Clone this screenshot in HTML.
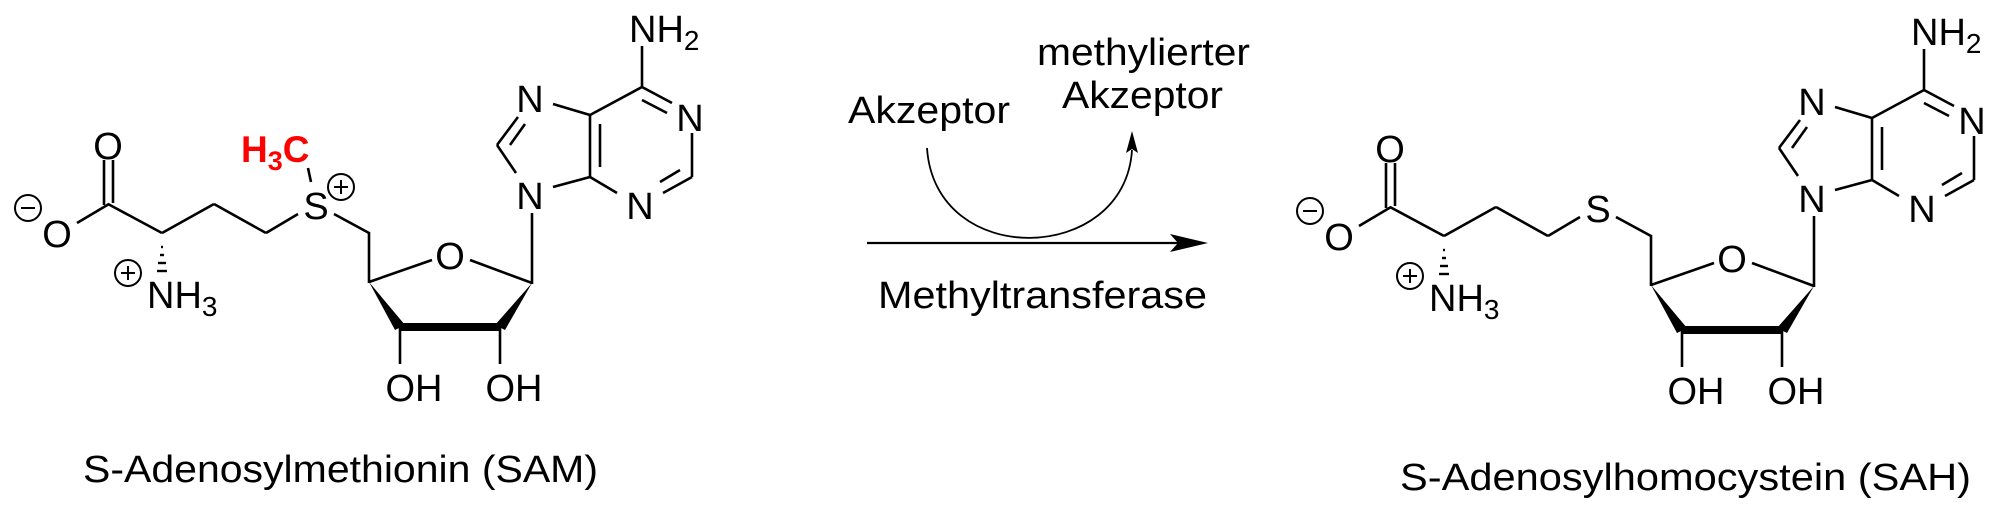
<!DOCTYPE html>
<html><head><meta charset="utf-8"><style>
html,body{margin:0;padding:0;background:#fff;}
svg{display:block;}
text{font-family:"Liberation Sans",Arial,sans-serif;fill:#000;}
</style></head><body>
<svg width="1998" height="512" viewBox="0 0 1998 512" xmlns="http://www.w3.org/2000/svg">
<rect width="1998" height="512" fill="#fff"/>

<!-- ===== SAM ===== -->
<g stroke="#000" stroke-width="2.6" fill="none" stroke-linecap="butt">
  <!-- carboxylate -->
  <line x1="104" y1="160" x2="104" y2="205"/>
  <line x1="113" y1="160" x2="113" y2="203"/>
  <line x1="77" y1="223" x2="109" y2="204"/>
  <line x1="108" y1="204" x2="162" y2="233"/>
  <line x1="162" y1="233" x2="214" y2="204"/>
  <line x1="214" y1="204" x2="266" y2="233"/>
  <line x1="266" y1="233" x2="298" y2="214"/>
  <line x1="308" y1="168" x2="311" y2="182"/>
  <line x1="334" y1="214" x2="369" y2="233"/>
  <line x1="369" y1="232" x2="369" y2="283"/>
  <!-- ribose -->
  <line x1="369" y1="282" x2="432" y2="260"/>
  <line x1="470" y1="260" x2="532" y2="283"/>
  <line x1="532" y1="284" x2="532" y2="213"/>
  <line x1="400" y1="327" x2="400" y2="364"/>
  <line x1="500" y1="327" x2="500" y2="364"/>
  <!-- purine -->
  <line x1="553" y1="104" x2="590" y2="115"/>
  <line x1="497" y1="145" x2="518" y2="117"/>
  <line x1="510" y1="145" x2="525" y2="124"/>
  <line x1="497" y1="145" x2="516" y2="173"/>
  <line x1="553" y1="187" x2="590" y2="177"/>
  <line x1="590" y1="114" x2="590" y2="178"/>
  <line x1="600" y1="124" x2="600" y2="167"/>
  <line x1="590" y1="115" x2="642" y2="87"/>
  <line x1="642" y1="87" x2="672" y2="103"/>
  <line x1="642" y1="100" x2="667" y2="113"/>
  <line x1="692" y1="133" x2="692" y2="177"/>
  <line x1="692" y1="177" x2="663" y2="193"/>
  <line x1="680" y1="170" x2="660" y2="182"/>
  <line x1="617" y1="193" x2="590" y2="177"/>
  <line x1="642" y1="88" x2="642" y2="46"/>
</g>
<!-- hashed bond -->
<g stroke="#000" stroke-width="2.4">
  <line x1="161" y1="247" x2="163" y2="247"/>
  <line x1="160" y1="255" x2="164" y2="255"/>
  <line x1="158" y1="263" x2="166" y2="263"/>
  <line x1="157" y1="271" x2="167" y2="271"/>
</g>
<!-- wedges & bold -->
<polygon points="369,282 395,330 405,325" fill="#000"/>
<polygon points="532,283 495,325 505,330" fill="#000"/>
<line x1="399" y1="327" x2="501" y2="327" stroke="#000" stroke-width="8"/>
<!-- charges -->
<g stroke="#000" stroke-width="2" fill="none">
  <circle cx="28" cy="208" r="13"/><line x1="21" y1="208" x2="35" y2="208"/>
  <circle cx="128" cy="273" r="13"/><line x1="121" y1="273" x2="135" y2="273"/><line x1="128" y1="266" x2="128" y2="280"/>
  <circle cx="341" cy="187" r="13"/><line x1="334" y1="187" x2="348" y2="187"/><line x1="341" y1="180" x2="341" y2="194"/>
</g>
<g font-size="38" text-anchor="middle">
  <text x="108" y="159">O</text>
  <text x="57" y="247">O</text>
  <text x="316" y="219">S</text>
  <text x="450" y="269">O</text>
  <text x="414" y="401">OH</text>
  <text x="514" y="401">OH</text>
  <text x="530" y="112">N</text>
  <text x="530" y="209">N</text>
  <text x="690" y="131">N</text>
  <text x="640" y="219">N</text>
</g>
<text x="629" y="42" font-size="38">NH<tspan font-size="28" dy="8">2</tspan></text>
<text x="147" y="308" font-size="38">NH<tspan font-size="28" dy="8">3</tspan></text>
<text x="241" y="162" font-size="37" font-weight="bold" fill="#f00" style="fill:#f00">H<tspan font-size="27" dy="8" style="fill:#f00">3</tspan><tspan dy="-8" style="fill:#f00">C</tspan></text>
<text x="83" y="482" font-size="38" textLength="515" lengthAdjust="spacingAndGlyphs">S-Adenosylmethionin (SAM)</text>

<!-- ===== Arrow ===== -->
<line x1="867" y1="243" x2="1180" y2="243" stroke="#000" stroke-width="2.2"/>
<polygon points="1208,243 1170,234 1178,243 1170,252" fill="#000"/>
<path d="M927,148 C935,270 1125,265 1132,150" stroke="#000" stroke-width="1.8" fill="none"/>
<polygon points="1132,131 1126,153 1132,149 1138,153" fill="#000"/>
<text x="848" y="123" font-size="38" textLength="162" lengthAdjust="spacingAndGlyphs">Akzeptor</text>
<text x="1037" y="65" font-size="38" textLength="213" lengthAdjust="spacingAndGlyphs">methylierter</text>
<text x="1062" y="108" font-size="38" textLength="161" lengthAdjust="spacingAndGlyphs">Akzeptor</text>
<text x="878" y="308" font-size="38" textLength="329" lengthAdjust="spacingAndGlyphs">Methyltransferase</text>

<!-- ===== SAH ===== -->
<g transform="translate(1282,3)">
<g stroke="#000" stroke-width="2.6" fill="none">
  <line x1="104" y1="160" x2="104" y2="205"/>
  <line x1="113" y1="160" x2="113" y2="203"/>
  <line x1="77" y1="223" x2="109" y2="204"/>
  <line x1="108" y1="204" x2="162" y2="233"/>
  <line x1="162" y1="233" x2="214" y2="204"/>
  <line x1="214" y1="204" x2="266" y2="233"/>
  <line x1="266" y1="233" x2="298" y2="214"/>
  <line x1="334" y1="214" x2="369" y2="233"/>
  <line x1="369" y1="232" x2="369" y2="283"/>
  <line x1="369" y1="282" x2="432" y2="260"/>
  <line x1="470" y1="260" x2="532" y2="283"/>
  <line x1="532" y1="284" x2="532" y2="213"/>
  <line x1="400" y1="327" x2="400" y2="364"/>
  <line x1="500" y1="327" x2="500" y2="364"/>
  <line x1="553" y1="104" x2="590" y2="115"/>
  <line x1="497" y1="145" x2="518" y2="117"/>
  <line x1="510" y1="145" x2="525" y2="124"/>
  <line x1="497" y1="145" x2="516" y2="173"/>
  <line x1="553" y1="187" x2="590" y2="177"/>
  <line x1="590" y1="114" x2="590" y2="178"/>
  <line x1="600" y1="124" x2="600" y2="167"/>
  <line x1="590" y1="115" x2="642" y2="87"/>
  <line x1="642" y1="87" x2="672" y2="103"/>
  <line x1="642" y1="100" x2="667" y2="113"/>
  <line x1="692" y1="133" x2="692" y2="177"/>
  <line x1="692" y1="177" x2="663" y2="193"/>
  <line x1="680" y1="170" x2="660" y2="182"/>
  <line x1="617" y1="193" x2="590" y2="177"/>
  <line x1="642" y1="88" x2="642" y2="46"/>
</g>
<g stroke="#000" stroke-width="2.4">
  <line x1="161" y1="247" x2="163" y2="247"/>
  <line x1="160" y1="255" x2="164" y2="255"/>
  <line x1="158" y1="263" x2="166" y2="263"/>
  <line x1="157" y1="271" x2="167" y2="271"/>
</g>
<polygon points="369,282 395,330 405,325" fill="#000"/>
<polygon points="532,283 495,325 505,330" fill="#000"/>
<line x1="399" y1="327" x2="501" y2="327" stroke="#000" stroke-width="8"/>
<g stroke="#000" stroke-width="2" fill="none">
  <circle cx="28" cy="208" r="13"/><line x1="21" y1="208" x2="35" y2="208"/>
  <circle cx="128" cy="273" r="13"/><line x1="121" y1="273" x2="135" y2="273"/><line x1="128" y1="266" x2="128" y2="280"/>
</g>
<g font-size="38" text-anchor="middle">
  <text x="108" y="159">O</text>
  <text x="57" y="247">O</text>
  <text x="316" y="219">S</text>
  <text x="450" y="269">O</text>
  <text x="414" y="401">OH</text>
  <text x="514" y="401">OH</text>
  <text x="530" y="112">N</text>
  <text x="530" y="209">N</text>
  <text x="690" y="131">N</text>
  <text x="640" y="219">N</text>
</g>
<text x="629" y="42" font-size="38">NH<tspan font-size="28" dy="8">2</tspan></text>
<text x="147" y="308" font-size="38">NH<tspan font-size="28" dy="8">3</tspan></text>
</g>
<text x="1400" y="490" font-size="38" textLength="571" lengthAdjust="spacingAndGlyphs">S-Adenosylhomocystein (SAH)</text>
</svg>
</body></html>
